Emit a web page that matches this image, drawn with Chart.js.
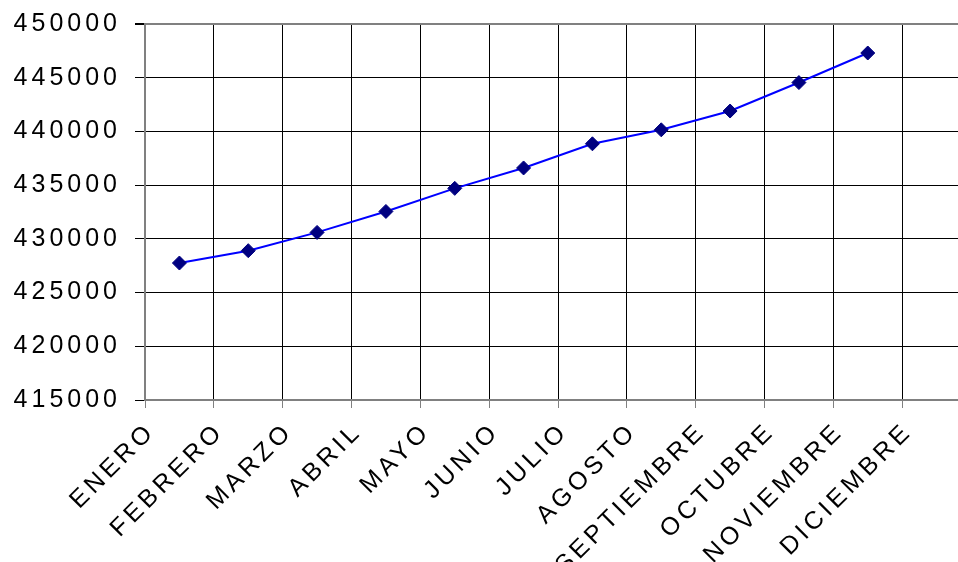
<!DOCTYPE html>
<html>
<head>
<meta charset="utf-8">
<script src="https://cdn.jsdelivr.net/npm/chart.js@4/dist/chart.umd.min.js"></script>
<style>
  html, body { margin: 0; padding: 0; background: #fff; overflow: hidden; }
  #wrap { width: 958px; height: 562px; overflow: hidden; }
</style>
</head>
<body>
<div id="wrap"><canvas id="grafica" width="979" height="562"></canvas></div>
<script>
// datos
const meses = ['ENERO', 'FEBRERO', 'MARZO', 'ABRIL', 'MAYO', 'JUNIO', 'JULIO', 'AGOSTO', 'SEPTIEMBRE', 'OCTUBRE', 'NOVIEMBRE', 'DICIEMBRE']
const valores = [427750, 428900, 430600, 432550, 434700, 436600, 438850, 440150, 441900, 444550, 447300]
const yMin = 415000
const yMax = 450000
const yPaso = 5000

const fuente = '"Liberation Sans", Arial, sans-serif'

// espaciado de letras como en el original
const espaciado = {
  id: 'espaciado',
  beforeUpdate (chart) { chart.ctx.letterSpacing = '4px' },
  beforeDraw (chart) {
    chart.ctx.letterSpacing = '4px'
    const ctx = chart.ctx
    ctx.save()
    ctx.fillStyle = '#fff'
    ctx.fillRect(0, 0, chart.width, chart.height)
    ctx.restore()
  }
}

const ctx = document.getElementById('grafica')
new Chart(ctx, {
  type: 'line',
  data: {
    labels: meses,
    datasets: [{
      data: valores,
      borderColor: '#0000FF',
      borderWidth: 2,
      tension: 0,
      pointStyle: 'rectRot',
      pointRadius: 7,
      pointBackgroundColor: '#000080',
      pointBorderColor: '#000080',
      pointBorderWidth: 1
    }]
  },
  options: {
    responsive: false,
    animation: false,
    devicePixelRatio: 1,
    layout: { padding: { top: 24, left: 0, right: 0, bottom: 0 } },
    plugins: {
      legend: { display: false },
      tooltip: { enabled: false }
    },
    scales: {
      x: {
        type: 'category',
        offset: true,
        afterFit: (scale) => { scale.height = 162 },
        grid: {
          offset: true,
          color: '#000',
          lineWidth: 1,
          tickLength: 8,
          tickColor: '#808080'
        },
        border: { color: '#808080', width: 2 },
        ticks: {
          autoSkip: false,
          minRotation: 45,
          maxRotation: 45,
          labelOffset: -28,
          padding: 9,
          color: '#000',
          font: { family: fuente, size: 25 }
        }
      },
      y: {
        min: yMin,
        max: yMax,
        afterFit: (scale) => {
          scale.width = 145
          scale.paddingTop = 0
          scale.paddingBottom = 0
        },
        grid: {
          color: (c) => c.tick && c.tick.value === yMax ? '#808080' : '#000',
          lineWidth: (c) => c.tick && c.tick.value === yMax ? 2 : 1,
          tickLength: 10,
          tickColor: '#000'
        },
        border: { color: '#808080', width: 2 },
        ticks: {
          stepSize: yPaso,
          padding: 14,
          color: '#000',
          font: { family: fuente, size: 25 },
          callback: (v) => String(v)
        }
      }
    }
  },
  plugins: [espaciado]
})
</script>
</body>
</html>
